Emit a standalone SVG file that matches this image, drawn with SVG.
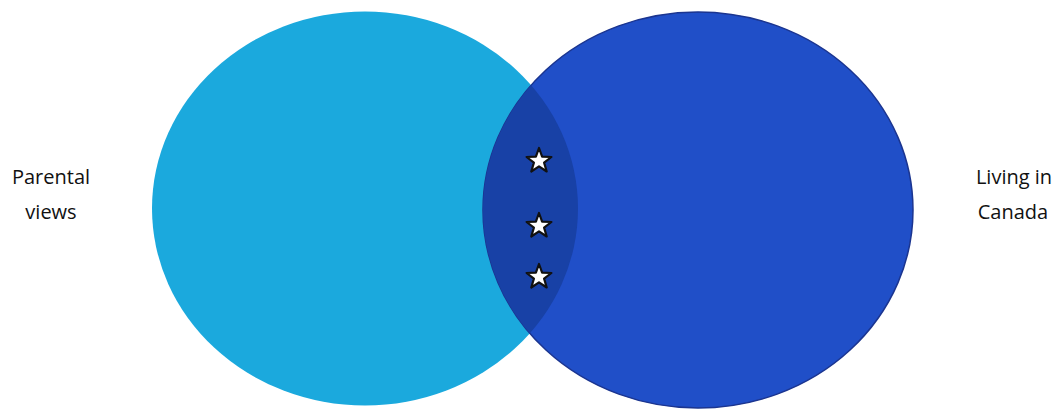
<svg xmlns="http://www.w3.org/2000/svg" width="1061" height="413" viewBox="0 0 1061 413">
<style>
.lbl{font-family:"Open Sans","Liberation Sans",sans-serif;font-size:20px;font-weight:500;fill:#111111;text-anchor:middle}
.star{fill:#ffffff;stroke:#111111;stroke-width:2.2;stroke-linejoin:round}
</style>
<defs>
<clipPath id="clipL"><ellipse cx="365" cy="208.5" rx="213" ry="197"/></clipPath>
<path id="star" d="M0,-13 L3.1,-4.3 L12.4,-4 L5.1,1.6 L7.7,10.5 L0,5.3 L-7.7,10.5 L-5.1,1.6 L-12.4,-4 L-3.1,-4.3 Z"/>
</defs>
<rect width="1061" height="413" fill="#ffffff"/>
<g id="parental-views">
<ellipse cx="365" cy="208.5" rx="213" ry="197" fill="#1ba9dd"/>
<text class="lbl" x="51" y="184">Parental</text>
<text class="lbl" x="51" y="219">views</text>
</g>
<g id="living-in-canada">
<ellipse cx="698" cy="210" rx="215" ry="198" fill="#204fc8" stroke="#1b3590" stroke-width="1.5"/>
<text class="lbl" x="1014" y="184">Living in</text>
<text class="lbl" x="1013" y="219">Canada</text>
</g>
<g id="overlap">
<ellipse cx="698" cy="210" rx="215" ry="198" fill="#1841a6" clip-path="url(#clipL)"/>
<use href="#star" x="539" y="161" class="star"/>
<use href="#star" x="539" y="226" class="star"/>
<use href="#star" x="539" y="277" class="star"/>
</g>
<g id="connectors"/>
</svg>
